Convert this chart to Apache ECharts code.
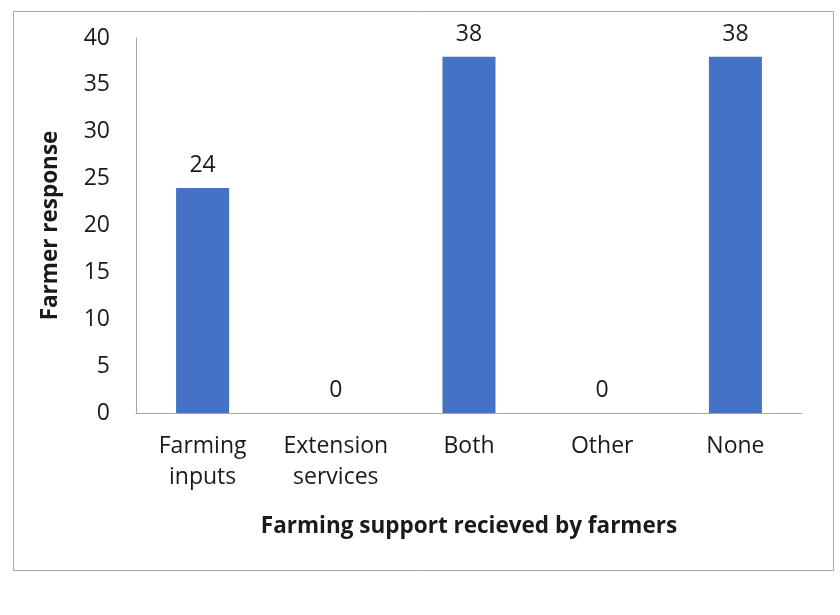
<!DOCTYPE html>
<html>
<head>
<meta charset="utf-8">
<title>Farming support received by farmers</title>
<script src="https://cdn.jsdelivr.net/npm/echarts@6/dist/echarts.min.js"></script>
<style>
  html, body { margin: 0; padding: 0; background: #ffffff; }
  #chart { width: 840px; height: 615px; }
</style>
</head>
<body>
<div id="chart"></div>
<script>
// Support categories and the number of farmers in each
const categories = ['Farming\ninputs', 'Extension\nservices', 'Both', 'Other', 'None'];
const responses = [24, 0, 38, 0, 38];
const yTicks = { min: 0, max: 40, interval: 5 };

const FONT = '"Open Sans", "DejaVu Sans", sans-serif';
const chart = echarts.init(document.getElementById('chart'));

chart.setOption({
  animation: false,
  backgroundColor: '#ffffff',
  graphic: [{
    type: 'rect',
    left: 11, top: 9,
    shape: { width: 820, height: 559 },
    style: { fill: 'none', stroke: '#a6a6a6', lineWidth: 1 },
    silent: true
  }],
  grid: { left: 136, right: 38, top: 38, bottom: 202, containLabel: false },
  xAxis: {
    type: 'category',
    data: categories,
    name: 'Farming support recieved by farmers',
    nameLocation: 'middle',
    nameGap: 102,
    nameTextStyle: { fontFamily: FONT, fontSize: 22.5, fontWeight: 'bold', color: '#1a1a1a' },
    axisLine: { show: true, lineStyle: { color: '#a6a6a6', width: 1 } },
    axisTick: { show: false },
    axisLabel: { fontFamily: FONT, fontSize: 23, color: '#1a1a1a', lineHeight: 31, margin: 18, interval: 0 }
  },
  yAxis: {
    type: 'value',
    min: yTicks.min, max: yTicks.max, interval: yTicks.interval,
    name: 'Farmer response',
    nameLocation: 'middle',
    nameGap: 74,
    nameRotate: 90,
    nameTextStyle: { fontFamily: FONT, fontSize: 22.5, fontWeight: 'bold', color: '#1a1a1a' },
    axisLine: { show: true, lineStyle: { color: '#a6a6a6', width: 1 } },
    axisTick: { show: false },
    splitLine: { show: false },
    axisLabel: { fontFamily: FONT, fontSize: 23, color: '#1a1a1a', margin: 26 }
  },
  series: [{
    type: 'bar',
    data: responses,
    barWidth: 53,
    itemStyle: { color: '#4472c4' },
    label: {
      show: true,
      position: 'top',
      distance: 11,
      fontFamily: FONT,
      fontSize: 23,
      color: '#1a1a1a'
    }
  }]
});
</script>
</body>
</html>
